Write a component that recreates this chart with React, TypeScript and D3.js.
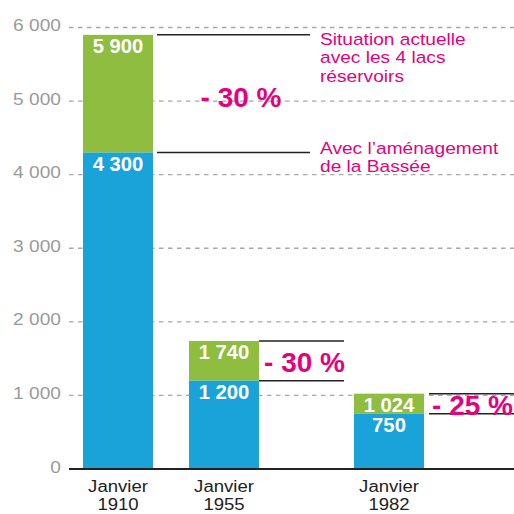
import React from 'react';
import * as d3 from 'd3';

// chart data
const periods = ['1910', '1955', '1982'];
const withReservoirs = [5900, 1740, 1024];
const withBassee = [4300, 1200, 750];
const reductions = ['- 30 %', '- 30 %', '- 25 %'];
const yTicks = [0, 1000, 2000, 3000, 4000, 5000, 6000];
const noteTop = ['Situation actuelle', 'avec les 4 lacs', 'réservoirs'];
const noteBottom = ['Avec l’aménagement', 'de la Bassée'];

const colors = {
  green: '#8ebd40',
  blue: '#19a3d9',
  magenta: '#e5007e',
  grid: '#a8a8a8',
  tickText: '#9a9a9a',
  ink: '#222222',
};

const W = 514;
const H = 514;
const FONT = '"Liberation Sans", Arial, Helvetica, sans-serif';
const SX = 1.16; // the regular face of the original runs wider than Arial

const fmt = (v: number) => d3.format(',')(v).replace(/,/g, ' ');

// draws text slightly stretched sideways
const WideText = ({ x, y, anchor = 'start', size, fill, weight = 'normal', sx = SX, children }: any) => (
  <text
    transform={`translate(${x},${y}) scale(${sx},1)`}
    textAnchor={anchor}
    fontSize={size}
    fontWeight={weight}
    fill={fill}
    fontFamily={FONT}
  >
    {children}
  </text>
);

const App = () => {
  const left = 69;
  const barW = 70;

  const y = d3.scaleLinear().domain([0, 6000]).range([469, 27.5]);
  // the columns are not evenly spaced in the original
  const x = d3.scaleOrdinal<string, number>().domain(periods).range([118, 224, 389]);

  // where the bracket lines and the percent label sit, per column
  const brackets = [
    { x0: 157, x1: 310, labelX: 241, anchor: 'middle', dy: 13 },
    { x0: 259, x1: 344, labelX: 345, anchor: 'end', dy: 11 },
    { x0: 429, x1: 514, labelX: 513, anchor: 'end', dy: 11 },
  ];

  return (
    <svg
      width={W}
      height={H}
      style={{ position: 'absolute', left: 0, top: 0, background: '#fff' }}
      fontFamily={FONT}
    >
      {/* grid */}
      {yTicks.map(t => (
        <g key={t}>
          {t > 0 && (
            <line
              x1={left}
              x2={W}
              y1={y(t)}
              y2={y(t)}
              stroke={colors.grid}
              strokeWidth={1.3}
              strokeDasharray="4.5,4.5"
            />
          )}
          <WideText x={61} y={y(t) + 3.5} anchor="end" size={16.5} fill={colors.tickText}>
            {fmt(t)}
          </WideText>
        </g>
      ))}

      {/* bars */}
      {periods.map((p, i) => {
        const cx = x(p);
        return (
          <g key={p}>
            <rect
              x={cx - barW / 2}
              y={y(withReservoirs[i])}
              width={barW}
              height={y(withBassee[i]) - y(withReservoirs[i])}
              fill={colors.green}
            />
            <rect
              x={cx - barW / 2}
              y={y(withBassee[i])}
              width={barW}
              height={y(0) - y(withBassee[i])}
              fill={colors.blue}
            />
            <WideText x={cx} y={y(withReservoirs[i]) + 18.5} anchor="middle" size={19.5} weight="bold" sx={1.04} fill="#fff">
              {fmt(withReservoirs[i])}
            </WideText>
            <WideText x={cx} y={y(withBassee[i]) + 18.5} anchor="middle" size={19.5} weight="bold" sx={1.04} fill="#fff">
              {fmt(withBassee[i])}
            </WideText>
            <WideText x={cx} y={492} anchor="middle" size={16} fill={colors.ink}>
              Janvier
            </WideText>
            <WideText x={cx} y={510} anchor="middle" size={16} fill={colors.ink}>
              {p}
            </WideText>
          </g>
        );
      })}

      {/* baseline */}
      <line x1={left} x2={W} y1={y(0)} y2={y(0)} stroke={colors.ink} strokeWidth={2.2} />

      {/* brackets and reductions */}
      {brackets.map((b, i) => {
        const yTop = y(withReservoirs[i]);
        const yBot = y(withBassee[i]);
        return (
          <g key={i}>
            <line x1={b.x0} x2={b.x1} y1={yTop} y2={yTop} stroke={colors.ink} strokeWidth={1.5} />
            <line x1={b.x0} x2={b.x1} y1={yBot} y2={yBot} stroke={colors.ink} strokeWidth={1.5} />
            <text
              x={b.labelX}
              y={(yTop + yBot) / 2 + b.dy}
              textAnchor={b.anchor}
              fontSize={28}
              fontWeight="bold"
              fill={colors.magenta}
            >
              {reductions[i]}
            </text>
          </g>
        );
      })}

      {/* notes */}
      {noteTop.map((s, k) => (
        <WideText key={s} x={320} y={y(withReservoirs[0]) + 10 + k * 18.5} size={16.5} fill={colors.magenta}>
          {s}
        </WideText>
      ))}
      {noteBottom.map((s, k) => (
        <WideText key={s} x={320} y={y(withBassee[0]) + 1 + k * 18.5} size={16.5} fill={colors.magenta}>
          {s}
        </WideText>
      ))}
    </svg>
  );
};

export default App;
